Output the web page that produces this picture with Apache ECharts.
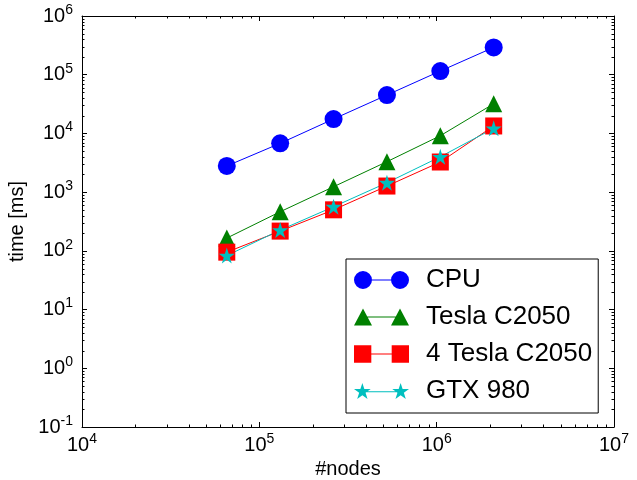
<!DOCTYPE html>
<html>
<head>
<meta charset="utf-8">
<script src="https://cdn.jsdelivr.net/npm/echarts@6/dist/echarts.min.js"></script>
<style>html,body{margin:0;padding:0;background:#fff;}#c{width:637px;height:480px;}</style>
</head>
<body>
<div id="c"></div>
<script>
const nodes = [65536, 131072, 262144, 524288, 1048576, 2097152];
const cpu = [2790, 6780, 17600, 45100, 115600, 292000];
const tesla = [165, 463, 1236, 3300, 9140, 32000];
const tesla4 = [95, 217, 500, 1270, 3260, 13400];
const gtx = [83, 226, 564, 1445, 4000, 12200];
const seriesNames = ['CPU', 'Tesla C2050', '4 Tesla C2050', 'GTX 980'];
const xRange = [1e4, 1e7];
const yRange = [1e-1, 1e6];

function minorVals(lo, hi) {
  const out = [];
  for (let d = lo; d < hi; d *= 10) for (let k = 2; k <= 9; k++) out.push(d * k);
  return out;
}
const xMinor = minorVals(xRange[0], xRange[1]);
const yMinor = minorVals(yRange[0], yRange[1]);

function starPts(cx, cy, R) {
  const r = R * 0.382, pts = [];
  for (let i = 0; i < 10; i++) {
    const a = -Math.PI / 2 + i * Math.PI / 5, rr = i % 2 ? r : R;
    pts.push((cx + rr * Math.cos(a)).toFixed(2) + ',' + (cy + rr * Math.sin(a)).toFixed(2));
  }
  return 'M' + pts.join(' L') + ' Z';
}
const starSym = 'path://' + starPts(10, 10, 10);
const legCircle = 'path://M0,9 A9,9 0 1,1 18,9 A9,9 0 1,1 0,9 Z M37,9 A9,9 0 1,1 55,9 A9,9 0 1,1 37,9 Z M18,8.5 H37 V9.5 H18 Z';
const legTri = 'path://M0,17.5 L9,0.5 L18,17.5 Z M37,17.5 L46,0.5 L55,17.5 Z M13,8.5 H42 V9.5 H13 Z';
const legRect = 'path://M0.5,0.5 H17.5 V17.5 H0.5 Z M37.5,0.5 H54.5 V17.5 H37.5 Z M17.5,8.5 H37.5 V9.5 H17.5 Z';
const legStar = 'path://' + starPts(9, 9, 8.5) + ' ' + starPts(46, 9, 8.5) + ' M12,8.5 H43 V9.5 H12 Z';

const FONT = 'Liberation Sans';
const expFmt = v => '{b|10}{s|' + Math.round(Math.log10(v)) + '}';
const rich = {
  b: {fontSize: 20, fontFamily: FONT, color: '#000'},
  s: {fontSize: 14, fontFamily: FONT, color: '#000', padding: [0, 0, 12, 0]}
};
const axBase = {
  type: 'log', logBase: 10,
  axisLine: {show: true, onZero: false, lineStyle: {color: '#000', width: 1}},
  axisTick: {show: true, inside: true, length: 5, lineStyle: {color: '#000'}},
  splitLine: {show: false}, minorTick: {show: false}
};

function minorTicks(isX) {
  return {
    type: 'custom', silent: true, clip: false, z: 5,
    data: (isX ? xMinor : yMinor).map(v => isX ? [v, 1] : [1e5, v]),
    renderItem: function (params, api) {
      const L = 2.5, ch = [];
      if (isX) {
        const v = api.value(0);
        const b = api.coord([v, yRange[0]]), t = api.coord([v, yRange[1]]);
        const x = Math.round(b[0]) + 0.5;
        ch.push({type: 'line', shape: {x1: x, y1: b[1], x2: x, y2: b[1] - L}, style: {stroke: '#000', lineWidth: 1}});
        ch.push({type: 'line', shape: {x1: x, y1: t[1], x2: x, y2: t[1] + L}, style: {stroke: '#000', lineWidth: 1}});
      } else {
        const v = api.value(1);
        const l = api.coord([xRange[0], v]), r = api.coord([xRange[1], v]);
        const y = Math.round(l[1]) + 0.5;
        ch.push({type: 'line', shape: {x1: l[0], y1: y, x2: l[0] + L, y2: y}, style: {stroke: '#000', lineWidth: 1}});
        ch.push({type: 'line', shape: {x1: r[0], y1: y, x2: r[0] - L, y2: y}, style: {stroke: '#000', lineWidth: 1}});
      }
      return {type: 'group', children: ch};
    }
  };
}

function mk(name, ys, color, symbol, size) {
  return {
    name: name, type: 'line', data: nodes.map((x, i) => [x, ys[i]]),
    symbol: symbol, symbolSize: size, showSymbol: true,
    lineStyle: {color: color, width: 1}, itemStyle: {color: color},
    z: 3
  };
}

const chart = echarts.init(document.getElementById('c'), null, {renderer: 'canvas'});
chart.setOption({
  animation: false,
  backgroundColor: '#fff',
  grid: {left: 82, right: 23, top: 16, bottom: 53, show: false, containLabel: false, outerBoundsMode: 'none'},
  xAxis: [
    Object.assign({}, axBase, {position: 'bottom', min: xRange[0], max: xRange[1], splitNumber: 3,
      axisLabel: {formatter: expFmt, rich: rich, margin: 5},
      name: '#nodes', nameLocation: 'middle', nameGap: 32,
      nameTextStyle: {fontSize: 20, fontFamily: FONT, color: '#000'}}),
    Object.assign({}, axBase, {position: 'top', min: xRange[0], max: xRange[1], splitNumber: 3,
      axisLabel: {show: false}})
  ],
  yAxis: [
    Object.assign({}, axBase, {position: 'left', min: yRange[0], max: yRange[1], splitNumber: 7,
      axisLabel: {formatter: expFmt, rich: rich, margin: 9},
      name: 'time [ms]', nameLocation: 'middle', nameGap: 50,
      nameTextStyle: {fontSize: 20, fontFamily: FONT, color: '#000'}}),
    Object.assign({}, axBase, {position: 'right', min: yRange[0], max: yRange[1], splitNumber: 7,
      axisLabel: {show: false}})
  ],
  legend: {
    orient: 'vertical', left: 346, top: 259,
    backgroundColor: '#fff', borderColor: '#000', borderWidth: 1, borderRadius: 0,
    padding: [8, 6, 9, 8], itemGap: 11, itemWidth: 55, itemHeight: 18,
    textStyle: {fontSize: 26, fontFamily: FONT, color: '#000', lineHeight: 26, padding: [0, 0, 0, 12]},
    data: [
      {name: seriesNames[0], icon: legCircle},
      {name: seriesNames[1], icon: legTri},
      {name: seriesNames[2], icon: legRect},
      {name: seriesNames[3], icon: legStar}
    ]
  },
  series: [
    mk(seriesNames[0], cpu, '#0000ff', 'circle', 18),
    mk(seriesNames[1], tesla, '#008000', 'triangle', 17),
    mk(seriesNames[2], tesla4, '#ff0000', 'rect', 17),
    mk(seriesNames[3], gtx, '#00bfbf', starSym, 16),
    minorTicks(true),
    minorTicks(false)
  ]
});
</script>
</body>
</html>
